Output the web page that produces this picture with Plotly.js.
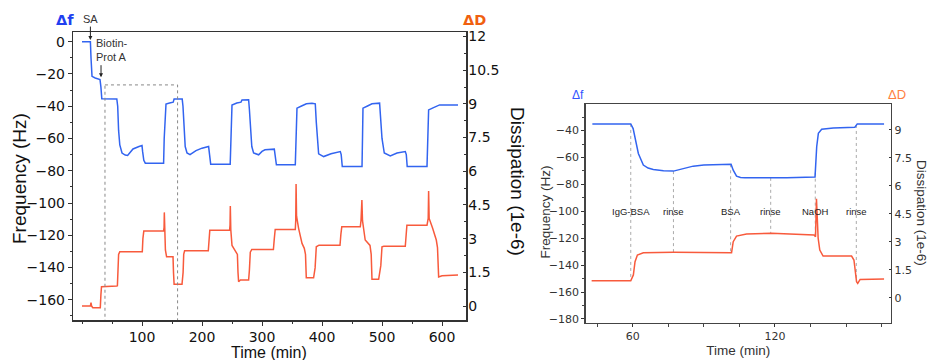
<!DOCTYPE html>
<html>
<head>
<meta charset="utf-8">
<script src="https://cdn.plot.ly/plotly-3.0.1.min.js"></script>
<style>html,body{margin:0;padding:0;background:#fff;}#chart{width:929px;height:360px;}</style>
</head>
<body>
<div id="chart"></div>
<script>
// ---------- Overview (left panel) ----------
const tFreqAll = [0,14,15,16.7,22,30,31.5,33,58,
  59.5,61,63,66.7,72,76,85,95,100,101,103,105.5,136,137,138.5,140,146,152,153.5,167,
  168.3,170,172,175,180,190,200,211,212.7,214.5,247,248.8,250,258,265,266.7,277.7,
  279,281,283,286,294.4,300,305,320.5,322.5,324,355.5,357,358.3,365,372,374,383.3,388.8,
  390.5,392.5,394.4,402.8,415,430.5,432,433.8,466.7,467.5,468.3,475,483.3,496,
  497.5,500,503.8,513.8,525,538.8,540.5,542,575,576.5,577.7,585,594.4,596,626.7];
const freqAll = [0,0,-10,-21.5,-22.5,-23.5,-28,-35.3,-35.5,
  -40,-55,-64,-69,-70.3,-70.5,-66.5,-65,-64.4,-68,-73.5,-75.3,-75.3,-60,-42,-38.6,-38,-37.5,-35.6,-35.6,
  -40,-55,-65,-69,-70,-67.5,-66,-65,-70,-75.9,-75.9,-45,-39.2,-38,-37.5,-36.1,-36,
  -42,-55,-65,-69,-70.1,-68,-67,-66.6,-71,-76.3,-76.3,-60,-41.2,-40,-39.2,-38.5,-38.1,-38.5,
  -50,-63,-69.5,-71.2,-69.5,-68.1,-70,-77.4,-77.4,-60,-41.2,-40,-38.5,-38.1,
  -45,-60,-69,-70.8,-69,-68.1,-70,-77.4,-77.4,-60,-42.3,-41,-39.8,-39.2,-39.2];
const tDissAll = [0,14,15,16,18,30.5,31.5,32.5,58,
  59,60,61,63,100.5,101.5,103,136,136.8,137.2,137.8,139,141,151.7,152.5,153.5,166.7,
  168.5,169.5,171,210.5,211.5,213,246,246.7,247.2,248,250,255,259,260,261,264,277.7,
  279,280.5,283,319,320.5,322,355.5,356.2,356.8,357.6,361,366.7,370.5,372.5,373.8,386,
  388.5,390.5,395,430,431.5,433,463.8,465,466.5,467.5,472,480,482,483.3,494.4,
  498,500,503,538.8,540,541.5,575,577,577.7,578.6,584.4,590.5,592.5,594.4,600,626.7];
const dissAll = [0,0,0.15,0,-0.07,-0.07,0.5,0.86,0.89,
  0.9,1.6,2.3,2.42,2.42,3.0,3.34,3.34,3.5,4.17,3.2,2.5,2.19,2.19,1.5,0.97,0.97,
  1.5,2.3,2.46,2.46,3.0,3.38,3.38,3.6,4.45,3.4,2.7,2.49,2.3,1.5,1.08,1.16,1.16,
  1.6,2.4,2.52,2.52,3.0,3.41,3.41,3.8,5.43,4.0,3.46,2.79,2.57,2.3,1.26,1.26,
  1.7,2.64,2.71,2.71,3.2,3.53,3.53,3.8,4.72,3.8,2.94,2.7,2.3,1.19,1.19,
  1.8,2.64,2.66,2.66,3.2,3.6,3.6,3.9,5.12,3.9,3.46,2.94,2.6,1.3,1.35,1.38];
const timeTicksAll = [100, 200, 300, 400, 500, 600];

// ---------- Detail (right panel, first cycle) ----------
const tFreqZoom = [43,59.2,60.2,61,62.4,64.5,66.5,68.7,73,77.2,81,85.5,90,94,101.5,102.4,103.8,105.5,107.3,125,136.9,137.6,138.3,139.7,144.6,153.7,154.2,154.7,166];
const freqZoom = [-35,-35,-38.5,-44.5,-57,-65.6,-67.8,-68.9,-69.8,-70.1,-68.3,-66.4,-65.6,-65.2,-65,-69.4,-73.9,-74.9,-75.1,-75.1,-74.4,-52,-42,-39,-38,-37.5,-36,-35,-35];
const tDissZoom = [42.7,59.2,60.3,61,62,64.5,77.2,101.7,102.4,103.8,108,118.5,136.5,137.1,137.5,137.8,138.2,138.9,140.3,152.3,153.3,154.4,154.9,155.9,166];
const dissZoom = [0.91,0.91,1.22,1.93,2.29,2.41,2.43,2.41,3.0,3.3,3.41,3.45,3.36,3.27,5.3,4.5,3.2,2.55,2.23,2.23,2.02,0.86,0.77,0.98,1.0];

const eventTimes = [59.2, 77.2, 101.3, 118.2, 137, 154.3];
const eventLabels = ['IgG-BSA', 'rinse', 'BSA', 'rinse', 'NaOH', 'rinse'];

const zoomWindow = [38.3, 159.3];
const zoomWindowTop = -26.8;

// ---------- Styling ----------
const W = 929, H = 360;
const BLUE = '#3264f0', RED = '#f85a3c';
const tickFontL = {family: 'DejaVu Sans, Verdana, sans-serif', size: 14, color: '#111'};
const tickFontR = {family: 'DejaVu Sans, Verdana, sans-serif', size: 11, color: '#333'};
const titleFam = 'Liberation Sans, Arial, sans-serif';
const deltaFam = 'DejaVu Sans, Verdana, sans-serif';

const rangeX1 = [-14.5, 640], rangeY1 = [-172.5, 6], rangeY2 = [-0.62, 12.2];
const rangeX2 = [40.2, 168.8], rangeY3 = [-182.8, -20.2], rangeY4 = [-1.34, 10.38];

function px(a, b) { return [a / W, b / W]; }
function py(top, bottom) { return [1 - bottom / H, 1 - top / H]; }

function interp(xs, ys, t) {
  for (let i = 0; i < xs.length - 1; i++) {
    if (t >= xs[i] && t <= xs[i + 1]) {
      const f = (t - xs[i]) / (xs[i + 1] - xs[i]);
      return ys[i] + f * (ys[i + 1] - ys[i]);
    }
  }
  return ys[ys.length - 1];
}
function dissToFreqAxis(d) {
  return rangeY3[0] + (d - rangeY4[0]) / (rangeY4[1] - rangeY4[0]) * (rangeY3[1] - rangeY3[0]);
}
function paperText(xPix, yPix, text, font, extra) {
  return Object.assign({xref: 'paper', yref: 'paper', x: xPix / W, y: 1 - yPix / H, text: text,
    showarrow: false, xanchor: 'center', yanchor: 'middle', font: font}, extra || {});
}

const baseAxis = {
  showgrid: false, zeroline: false, showline: true, linecolor: '#333', linewidth: 1.5,
  ticks: 'outside', ticklen: 4, tickcolor: '#333', tickwidth: 1
};

const traces = [
  {x: tFreqAll, y: freqAll, xaxis: 'x', yaxis: 'y', mode: 'lines', line: {color: BLUE, width: 1.5}},
  {x: tDissAll, y: dissAll, xaxis: 'x', yaxis: 'y2', mode: 'lines', line: {color: RED, width: 1.5}},
  {x: tFreqZoom, y: freqZoom, xaxis: 'x2', yaxis: 'y3', mode: 'lines', line: {color: BLUE, width: 1.5}},
  {x: tDissZoom, y: dissZoom, xaxis: 'x2', yaxis: 'y4', mode: 'lines', line: {color: RED, width: 1.5}}
];

const shapes = [
  {type: 'rect', xref: 'x', yref: 'y', x0: zoomWindow[0], x1: zoomWindow[1], y0: zoomWindowTop, y1: rangeY1[0] - 2,
   line: {color: '#888', width: 1, dash: 'dot'}, layer: 'above'}
];
eventTimes.forEach(t => {
  shapes.push({type: 'line', xref: 'x2', yref: 'y3', x0: t, x1: t,
    y0: interp(tFreqZoom, freqZoom, t), y1: dissToFreqAxis(interp(tDissZoom, dissZoom, t)),
    line: {color: '#aaa', width: 1, dash: 'dot'}, layer: 'below'});
});

const annotations = [
  paperText(64.5, 20, '<b>Δf</b>', {family: deltaFam, size: 14.5, color: '#1f3ff0'}),
  paperText(475, 20, '<b>ΔD</b>', {family: deltaFam, size: 14.5, color: '#f0600f'}),
  paperText(19, 179, 'Frequency (Hz)', {family: titleFam, size: 19, color: '#111'}, {textangle: -90}),
  paperText(518, 181, 'Dissipation (1e-6)', {family: titleFam, size: 19, color: '#111'}, {textangle: 90}),
  paperText(268.5, 352, 'Time (min)', {family: titleFam, size: 16, color: '#111'}),
  {xref: 'x', yref: 'y', x: 14, y: 1, ax: 0, ay: -21, text: 'SA', showarrow: true,
   arrowhead: 2, arrowsize: 0.8, arrowwidth: 1, arrowcolor: '#222', font: {family: titleFam, size: 11, color: '#333'}},
  {xref: 'x', yref: 'y', x: 49.7, y: -5.1, text: 'Biotin-<br>Prot A', align: 'left', showarrow: false,
   xanchor: 'center', yanchor: 'middle', font: {family: titleFam, size: 11, color: '#333'}},
  {xref: 'x', yref: 'y', x: 31.7, y: -22, ax: 0, ay: -14, text: ' ', showarrow: true,
   arrowhead: 2, arrowsize: 0.8, arrowwidth: 1, arrowcolor: '#222', font: {size: 1}},
  paperText(578, 95, 'Δf', {family: titleFam, size: 12, color: '#3355ff'}),
  paperText(896.5, 95, 'ΔD', {family: titleFam, size: 13, color: '#ff7f3f'}),
  paperText(545, 212.5, 'Frequency (Hz)', {family: titleFam, size: 13.5, color: '#333'}, {textangle: -90}),
  paperText(921.5, 212.5, 'Dissipation (1e-6)', {family: titleFam, size: 13.5, color: '#333'}, {textangle: 90})
];
eventTimes.forEach((t, i) => {
  annotations.push({xref: 'x2', yref: 'y3', x: t, y: -100, text: eventLabels[i], showarrow: false,
    xanchor: 'center', yanchor: 'middle', font: {family: titleFam, size: 9.5, color: '#222'}});
});

const layout = {
  width: W, height: H, margin: {l: 0, r: 0, t: 0, b: 0},
  paper_bgcolor: '#fff', plot_bgcolor: '#fff', showlegend: false, hovermode: false,
  xaxis: Object.assign({}, baseAxis, {
    domain: px(73.3, 466), range: rangeX1, anchor: 'y', mirror: true,
    tickmode: 'array', tickvals: timeTicksAll,
    minor: {dtick: 50, tick0: 0, ticks: 'outside', ticklen: 2, tickcolor: '#333'},
    tickfont: tickFontL
  }),
  yaxis: Object.assign({}, baseAxis, {
    domain: py(32, 320), range: rangeY1, anchor: 'x', tick0: 0, dtick: 20,
    minor: {dtick: 10, ticks: 'outside', ticklen: 2, tickcolor: '#333'},
    tickfont: tickFontL
  }),
  yaxis2: Object.assign({}, baseAxis, {
    overlaying: 'y', side: 'right', anchor: 'x', range: rangeY2, tick0: 0, dtick: 1.5,
    ticks: 'inside', ticklen: 3, ticklabelstandoff: -2,
    minor: {dtick: 0.75, ticks: 'inside', ticklen: 2, tickcolor: '#333'},
    tickfont: tickFontL
  }),
  xaxis2: Object.assign({}, baseAxis, {
    domain: px(585.7, 890.7), range: rangeX2, anchor: 'y3', mirror: true, tick0: 0, dtick: 60,
    linecolor: '#444', ticklen: 3,
    minor: {dtick: 15, ticks: 'outside', ticklen: 3, tickcolor: '#444'},
    tickfont: tickFontR, title: {text: 'Time (min)', standoff: 3, font: {family: titleFam, size: 13.5, color: '#333'}}
  }),
  yaxis3: Object.assign({}, baseAxis, {
    domain: py(104, 322.7), range: rangeY3, anchor: 'x2', tick0: 0, dtick: 20, linecolor: '#444', ticklen: 3,
    minor: {dtick: 10, ticks: 'outside', ticklen: 2, tickcolor: '#444'},
    tickfont: tickFontR
  }),
  yaxis4: Object.assign({}, baseAxis, {
    overlaying: 'y3', side: 'right', anchor: 'x2', range: rangeY4, tick0: 0, dtick: 1.5, linecolor: '#444',
    ticks: 'inside', ticklen: 2,
    tickfont: tickFontR
  }),
  shapes: shapes,
  annotations: annotations
};

Plotly.newPlot('chart', traces, layout, {displayModeBar: false, staticPlot: true});
</script>
</body>
</html>
